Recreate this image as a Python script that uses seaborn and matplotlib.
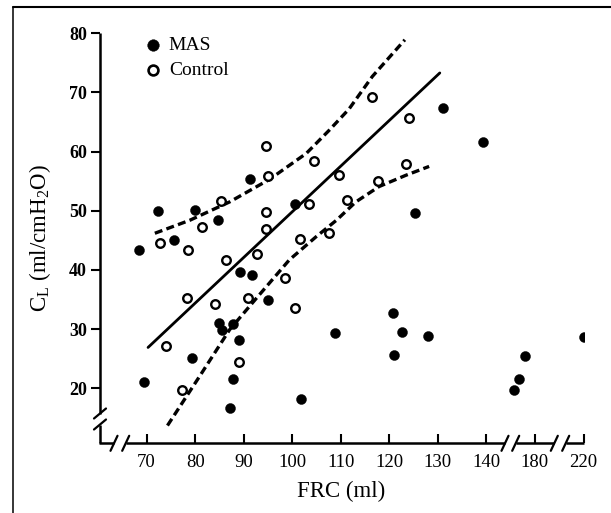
import numpy as np
import pandas as pd
import seaborn as sns
import matplotlib.pyplot as plt

# ---------------- data ----------------
mas_frc = [72.3, 79.9, 84.8, 91.2, 100.5, 75.6, 68.5, 89.2, 91.8, 95.1, 84.9, 87.7,
           85.5, 89.0, 108.8, 79.4, 69.4, 87.7, 101.9, 87.1, 120.8, 122.6, 127.9,
           121.0, 131.1, 139.3, 125.2, 177.9, 176.8, 175.7, 220.1]
mas_cl = [50.0, 50.1, 48.4, 55.3, 51.2, 45.1, 43.3, 39.7, 39.1, 34.9, 31.1, 30.9,
          29.8, 28.2, 29.3, 25.1, 21.1, 21.6, 18.2, 16.7, 32.8, 29.5, 28.8,
          25.6, 67.3, 61.6, 49.7, 25.5, 21.5, 19.7, 28.6]

ctl_frc = [94.5, 104.5, 95.0, 85.4, 81.5, 94.5, 94.5, 109.6, 103.5, 111.3, 116.5,
           124.1, 123.4, 117.6, 107.6, 72.7, 78.6, 86.4, 92.7, 98.6, 101.6, 78.4,
           84.1, 90.9, 100.5, 74.1, 89.1, 77.2]
ctl_cl = [61.0, 58.4, 55.8, 51.7, 47.2, 49.8, 46.9, 56.0, 51.1, 51.8, 69.2,
          65.6, 57.9, 55.0, 46.2, 44.6, 43.3, 41.6, 42.7, 38.7, 45.2, 35.3,
          34.2, 35.3, 33.6, 27.1, 24.5, 19.7]

reg_frc = [70.3, 130.4]
reg_cl = [26.9, 73.3]

upper_frc = [71.7, 78.9, 87.1, 95.3, 102.9, 107.6, 111.7, 116.5, 123.2]
upper_cl = [46.2, 48.4, 51.5, 55.3, 59.7, 63.6, 67.2, 72.7, 78.9]

lower_frc = [74.3, 80.9, 87.1, 92.6, 99.4, 104.9, 109.1, 113.1, 117.9, 123.4, 128.2]
lower_cl = [13.7, 22.0, 29.9, 35.2, 41.7, 45.6, 48.4, 51.5, 54.1, 56.0, 57.5]

x_tick_values = [70, 80, 90, 100, 110, 120, 130, 140, 180, 220]
y_tick_values = [20, 30, 40, 50, 60, 70, 80]

# broken x axis: (upper bound of segment, shift subtracted)
x_segments = [(150, 0), (200, 30), (1000, 60)]


def axis_pos(v):
    for upper, shift in x_segments:
        if v <= upper:
            return v - shift
    return v


mas = pd.DataFrame({"x": [axis_pos(v) for v in mas_frc], "y": mas_cl})
ctl = pd.DataFrame({"x": [axis_pos(v) for v in ctl_frc], "y": ctl_cl})
reg = pd.DataFrame({"x": [axis_pos(v) for v in reg_frc], "y": reg_cl})
upp = pd.DataFrame({"x": [axis_pos(v) for v in upper_frc], "y": upper_cl})
low = pd.DataFrame({"x": [axis_pos(v) for v in lower_frc], "y": lower_cl})

# ---------------- style ----------------
sns.set_theme(style="white")
plt.rcParams["font.family"] = ["Liberation Serif", "DejaVu Serif"]
plt.rcParams["mathtext.fontset"] = "custom"
plt.rcParams["mathtext.rm"] = "Liberation Serif"
plt.rcParams["mathtext.it"] = "Liberation Serif:italic"
plt.rcParams["mathtext.bf"] = "Liberation Serif:bold"

W, H = 611, 513
fig = plt.figure(figsize=(W / 100, H / 100), dpi=100)
ax_l, ax_r, ax_t, ax_b = 100, 583.5, 33.3, 443.3
ax = fig.add_axes([ax_l / W, 1 - ax_b / H, (ax_r - ax_l) / W, (ax_b - ax_t) / H])

# ---------------- marks ----------------
dash = (0, (2.4, 1.3))
sns.lineplot(data=upp, x="x", y="y", sort=False, estimator=None, color="black",
             lw=2.4, linestyle=dash, ax=ax)
sns.lineplot(data=low, x="x", y="y", sort=False, estimator=None, color="black",
             lw=2.4, linestyle=dash, ax=ax)
sns.lineplot(data=reg, x="x", y="y", sort=False, estimator=None, color="black",
             lw=2.0, ax=ax)

sns.scatterplot(data=mas, x="x", y="y", color="black", s=52, edgecolor="black",
                linewidth=0.3, label="MAS", ax=ax, zorder=5)
sns.scatterplot(data=ctl, x="x", y="y", facecolor="white", s=38, edgecolor="black",
                linewidth=1.7, label="Control", ax=ax, zorder=5)

# ---------------- axes ----------------
x_lo = 70 + (ax_l - 146.7) / 4.866
ax.set_xlim(x_lo, 160)
ax.set_ylim(10.7, 80)

ax.set_xticks([axis_pos(v) for v in x_tick_values])
ax.set_xticklabels([str(v) for v in x_tick_values])
ax.set_yticks(y_tick_values)
ax.set_yticklabels([str(v) for v in y_tick_values], fontweight="bold")

ax.tick_params(axis="x", direction="in", length=6.5, width=1.5, pad=8,
               labelsize=13.5, colors="black", bottom=True, top=False)
ax.tick_params(axis="y", direction="out", length=6.5, width=1.5, pad=3,
               labelsize=13, colors="black", left=True, right=False)

for s in ax.spines.values():
    s.set_visible(False)
ax.grid(False)
ax.set_facecolor("white")

# manual spines with break marks (pixel geometry -> axes fraction)
aw, ah = ax_r - ax_l, ax_b - ax_t


def ax_x(px):
    return (px - ax_l) / aw


def ax_y(py):
    return (ax_b - py) / ah


lw_sp = 1.8
kw = dict(transform=ax.transAxes, color="black", lw=lw_sp, clip_on=False,
          solid_capstyle="butt")
# x axis segments
x_slash = [114, 125.7, 505, 515.7, 554.3, 565.7]
segs = [(ax_l - 0.9, x_slash[0]), (x_slash[1], x_slash[2]), (x_slash[3], x_slash[4]),
        (x_slash[5], ax_r)]
for a, b in segs:
    ax.plot([ax_x(a), ax_x(b)], [0, 0], **kw)
for cx in x_slash:
    ax.plot([ax_x(cx - 3.5), ax_x(cx + 3.5)], [ax_y(ax_b + 7.5), ax_y(ax_b - 7.5)],
            transform=ax.transAxes, color="black", lw=1.6, clip_on=False)
# y axis segments
y_slash = [413.5, 424.5]
ax.plot([0, 0], [ax_y(ax_t), ax_y(y_slash[0])], **kw)
ax.plot([0, 0], [ax_y(y_slash[1]), ax_y(ax_b)], **kw)
for cy in y_slash:
    ax.plot([ax_x(ax_l - 6), ax_x(ax_l + 6)], [ax_y(cy + 5), ax_y(cy - 5)],
            transform=ax.transAxes, color="black", lw=1.6, clip_on=False)

# labels
ax.set_xlabel("FRC (ml)", fontsize=16.5, color="black", va="baseline")
ax.xaxis.set_label_coords(ax_x(341.5), ax_y(496.7))
ax.set_ylabel(r"C$_\mathregular{L}$ (ml/cmH$_\mathregular{2}$O)", fontsize=16.5,
              color="black", va="center")
ax.yaxis.set_label_coords(ax_x(40), 0.5)

# legend
leg = ax.legend(loc="upper left", bbox_to_anchor=(143.6 / W, 1 - 36 / H),
                bbox_transform=fig.transFigure, frameon=False,
                prop={"size": 14},
                handlelength=1.0, handletextpad=0.3, labelspacing=0.38,
                borderpad=0, borderaxespad=0)
for t in leg.get_texts():
    t.set_color("black")
handles = leg.legend_handles
handles[0].set_sizes([70])
handles[1].set_sizes([50])
handles[1].set_linewidth(1.9)

# outer frame (left and top only, as in the reference)
fig.add_artist(plt.Line2D([12.7 / W, 12.7 / W], [0, 1 - 7.3 / H],
                          transform=fig.transFigure, color="black", lw=1.1))
fig.add_artist(plt.Line2D([12.7 / W, 1], [1 - 7.3 / H, 1 - 7.3 / H],
                          transform=fig.transFigure, color="black", lw=1.5))

fig.savefig("out.png", dpi=100, facecolor="white")
